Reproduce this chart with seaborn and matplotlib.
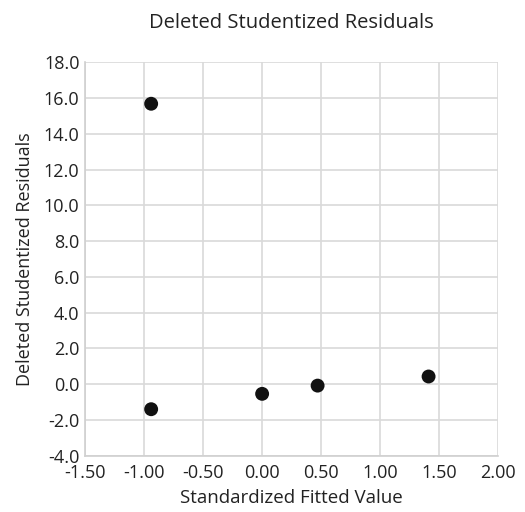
import seaborn as sns
import matplotlib.pyplot as plt
import pandas as pd

fitted = [-0.94, -0.94, 0.00, 0.47, 1.41]
resid = [15.69, -1.40, -0.54, -0.08, 0.43]

df = pd.DataFrame({'fitted': fitted, 'resid': resid})

sns.set_style('white')
plt.rcParams['font.family'] = ['Open Sans', 'DejaVu Sans']

fig = plt.figure(figsize=(5.25, 5.12), dpi=100)
ax = fig.add_axes([0.162, 0.110, 0.787, 0.768])

sns.scatterplot(x='fitted', y='resid', data=df, color='#111111', s=100,
                edgecolor='none', ax=ax, zorder=3)

ax.set_xlim(-1.5, 2.0)
ax.set_ylim(-4, 18)
ax.set_xticks([-1.5, -1.0, -0.5, 0.0, 0.5, 1.0, 1.5, 2.0])
ax.set_xticklabels(['%.2f' % v for v in ax.get_xticks()])
ax.set_yticks(range(-4, 19, 2))
ax.set_yticklabels(['%.1f' % v for v in ax.get_yticks()])
ax.grid(True, color='#d9d9d9', linewidth=1.2)
ax.set_axisbelow(True)
for s in ['top', 'right']:
    ax.spines[s].set_visible(False)
for s in ['left', 'bottom']:
    ax.spines[s].set_color('#d0d0d0')
    ax.spines[s].set_linewidth(1.2)
ax.tick_params(length=0, labelsize=13, colors='#222222')
ax.tick_params(axis='x', pad=6)
ax.tick_params(axis='y', pad=4)

ax.set_xlabel('Standardized Fitted Value', fontsize=13.5, color='#222222', labelpad=5)
ax.set_ylabel('Deleted Studentized Residuals', fontsize=13, color='#222222', labelpad=7)
ax.set_title('Deleted Studentized Residuals', fontsize=14.5, color='#222222', pad=25)

fig.savefig('out.png', dpi=100)
